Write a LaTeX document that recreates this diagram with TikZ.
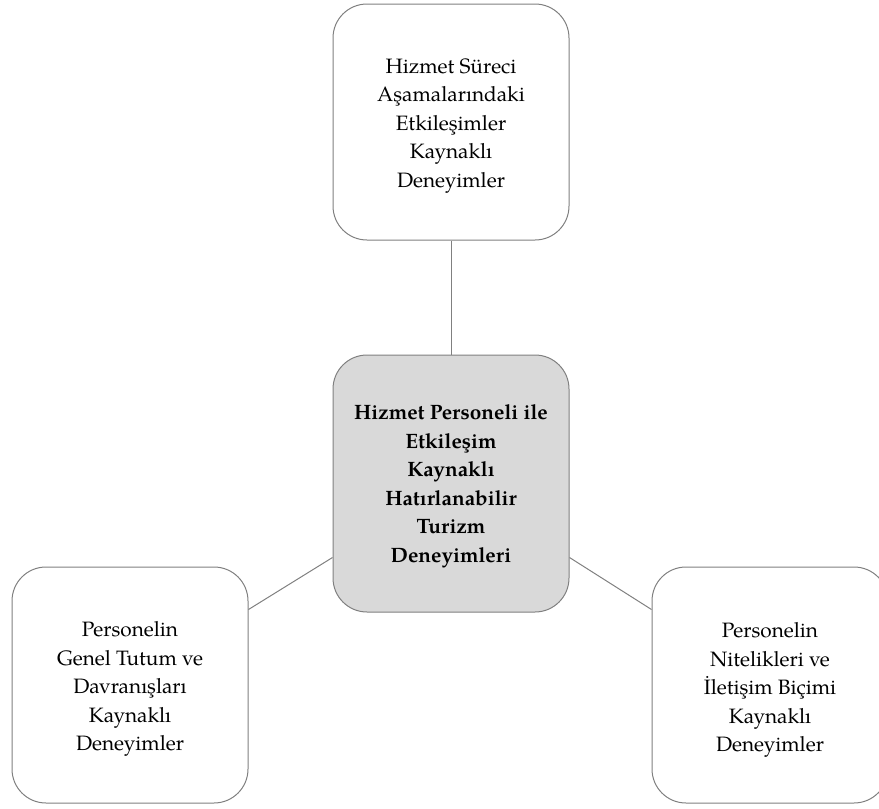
\documentclass[tikz,border=0pt]{standalone}
\usepackage{fontspec}
\setmainfont{texgyrepagella}[Extension=.otf,UprightFont=*-regular,BoldFont=*-bold]
\begin{document}
\begin{tikzpicture}[x=1pt,y=1pt,
  box/.style={draw=black!50,line width=1pt,rounded corners=34pt,fill=white,
    minimum width=236pt,minimum height=236pt,inner sep=0pt},
  centerbox/.style={box,fill=black!15,minimum height=257pt},
  txt/.style={align=center,inner sep=0pt,font=\fontsize{20.8}{28.5}\selectfont},
  boldtxt/.style={txt,font=\fontsize{20.8}{28.5}\selectfont\bfseries},
  link/.style={draw=black!50,line width=1pt}]
\useasboundingbox (0,0) rectangle (879,-809);
\node[box] (T) at (451,-122) {};
\node[centerbox] (C) at (451,-483.5) {};
\node[box] (L) at (130,-685) {};
\node[box] (R) at (770,-685) {};
\node[txt] (Tt) at ([yshift=-4pt]T.center) {Hizmet Süreci\\Aşamalarındaki\\Etkileşimler\\Kaynaklı\\Deneyimler};
\node[boldtxt] (Ct) at ([yshift=-3pt]C.center) {Hizmet Personeli ile\\Etkileşim\\Kaynaklı\\Hatırlanabilir\\Turizm\\Deneyimleri};
\node[txt] (Lt) at ([yshift=-4pt]L.center) {Personelin\\Genel Tutum ve\\Davranışları\\Kaynaklı\\Deneyimler};
\node[txt] (Rt) at ([yshift=-5pt]R.center) {Personelin\\Nitelikleri ve\\İletişim Biçimi\\Kaynaklı\\Deneyimler};
\draw[link] (T.south) -- (C.north);
\draw[link] ([yshift=-43pt]L.north east) -- ([yshift=-203pt]C.north west);
\draw[link] ([yshift=-203pt]C.north east) -- ([yshift=-43pt]R.north west);
\end{tikzpicture}
\end{document}
